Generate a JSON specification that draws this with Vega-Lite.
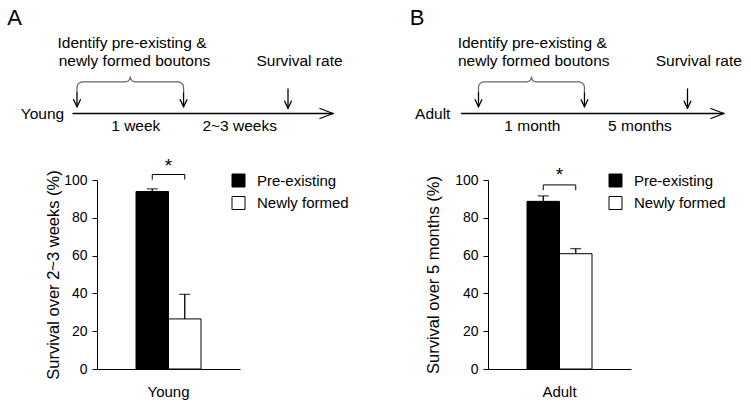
{
  "$schema": "https://vega.github.io/schema/vega-lite/v6.json",
  "padding": {"left": 7, "top": 6, "right": 5, "bottom": 5},
  "spacing": 60,
  "config": {
    "font": "Liberation Sans",
    "view": {"stroke": null},
    "axis": {"grid": false, "domainColor": "#000", "tickColor": "#000", "labelColor": "#000", "titleColor": "#000", "titleFontWeight": "normal", "labelFontSize": 14, "domainWidth": 1, "tickWidth": 1, "labelOverlap": false},
    "axisX": {"titleFontSize": 15},
    "axisY": {"titleFontSize": 16.5, "labelFlush": false, "labelOverlap": false},
    "axisQuantitative": {"labelOverlap": false},
    "legend": {"labelColor": "#000"},
    "text": {"color": "#000"}
  },
  "resolve": {"scale": {"fill": "independent"}, "legend": {"fill": "independent"}},
  "hconcat": [
    {
      "width": 143,
      "height": 189,
      "resolve": {"scale": {"x": "independent", "y": "independent"}},
      "layer": [
        {
          "data": {"values": [
            {"group": "Young", "type": "Pre-existing", "survival": 93.9, "upper": 95.3},
            {"group": "Young", "type": "Newly formed", "survival": 26.5, "upper": 39.5}
          ]},
          "encoding": {
            "x": {"field": "group", "type": "nominal", "scale": {"paddingInner": 0, "paddingOuter": 0.6}, "axis": {"title": null, "ticks": false, "tickSize": 0, "labelPadding": 15, "labelFontSize": 15, "labelAngle": 0}}
          },
          "layer": [
            {
              "mark": {"type": "bar", "stroke": "#000", "strokeWidth": 1},
              "encoding": {
                "xOffset": {"field": "type", "type": "nominal", "sort": ["Pre-existing", "Newly formed"], "scale": {"paddingInner": 0, "paddingOuter": 0}},
                "y": {"field": "survival", "type": "quantitative", "title": "Survival over 2~3 weeks (%)", "scale": {"domain": [0, 100], "nice": false}, "axis": {"values": [0, 20, 40, 60, 80, 100], "tickSize": 5, "labelPadding": 5, "titlePadding": 2, "labelOverlap": false, "labelFlush": false}},
                "fill": {"field": "type", "type": "nominal", "scale": {"domain": ["Pre-existing", "Newly formed"], "range": ["#000000", "#ffffff"]}, "legend": {"title": null, "orient": "none", "legendX": 134, "legendY": -7, "symbolType": "square", "symbolSize": 169, "symbolStrokeColor": "#000", "symbolStrokeWidth": 1, "labelFontSize": 15, "labelOffset": 11, "rowPadding": 5.5}}
              }
            },
            {
              "mark": {"type": "rule", "color": "#000", "strokeWidth": 1.3},
              "encoding": {
                "xOffset": {"field": "type", "type": "nominal", "sort": ["Pre-existing", "Newly formed"]},
                "y": {"field": "survival", "type": "quantitative", "title": "Survival over 2~3 weeks (%)", "axis": {"values": [0, 20, 40, 60, 80, 100], "tickSize": 5, "labelPadding": 5, "titlePadding": 2, "labelOverlap": false, "labelFlush": false}},
                "y2": {"field": "upper"}
              }
            },
            {
              "mark": {"type": "tick", "color": "#000", "thickness": 1.3, "size": 11},
              "encoding": {
                "xOffset": {"field": "type", "type": "nominal", "sort": ["Pre-existing", "Newly formed"]},
                "y": {"field": "upper", "type": "quantitative", "title": "Survival over 2~3 weeks (%)", "axis": {"values": [0, 20, 40, 60, 80, 100], "tickSize": 5, "labelPadding": 5, "titlePadding": 2, "labelOverlap": false, "labelFlush": false}}
              }
            },
            {
              "data": {"values": [
                {"group": "Young", "type": "Pre-existing", "level": 100.2, "step": 1},
                {"group": "Young", "type": "Pre-existing", "level": 102.9, "step": 2},
                {"group": "Young", "type": "Newly formed", "level": 102.9, "step": 3},
                {"group": "Young", "type": "Newly formed", "level": 100.2, "step": 4}
              ]},
              "mark": {"type": "line", "color": "#000", "strokeWidth": 1},
              "encoding": {
                "xOffset": {"field": "type", "type": "nominal", "sort": ["Pre-existing", "Newly formed"]},
                "y": {"field": "level", "type": "quantitative", "title": "Survival over 2~3 weeks (%)", "axis": {"values": [0, 20, 40, 60, 80, 100], "tickSize": 5, "labelPadding": 5, "titlePadding": 2, "labelOverlap": false, "labelFlush": false}},
                "order": {"field": "step", "type": "quantitative"}
              }
            },
            {
              "data": {"values": [{"group": "Young", "level": 104.3, "label": "*"}]},
              "mark": {"type": "text", "fontSize": 19, "baseline": "alphabetic"},
              "encoding": {
                "y": {"field": "level", "type": "quantitative", "title": "Survival over 2~3 weeks (%)", "axis": {"values": [0, 20, 40, 60, 80, 100], "tickSize": 5, "labelPadding": 5, "titlePadding": 2, "labelOverlap": false, "labelFlush": false}},
                "text": {"field": "label"}
              }
            }
          ]
        },
        {
          "encoding": {
            "x": {"field": "t", "type": "quantitative", "scale": {"domain": [0.1896, 1.545], "nice": false, "zero": false}, "axis": null},
            "y": {"field": "v", "type": "quantitative", "scale": {"domain": [-255.5, -66.5], "nice": false, "zero": false}, "axis": null}
          },
          "layer": [
            {
              "data": {"values": [
                {"t": -0.038, "v": 0, "t2": 2.427, "v2": 0},
                {"t": 2.303, "v": 5, "t2": 2.427, "v2": 0},
                {"t": 2.303, "v": -5, "t2": 2.427, "v2": 0},
                {"t": 0, "v": 21, "t2": 0, "v2": 7},
                {"t": -0.032, "v": 13.8, "t2": 0, "v2": 6.8},
                {"t": 0.032, "v": 13.8, "t2": 0, "v2": 6.8},
                {"t": 1.01, "v": 21, "t2": 1.01, "v2": 7},
                {"t": 0.978, "v": 13.8, "t2": 1.01, "v2": 6.8},
                {"t": 1.042, "v": 13.8, "t2": 1.01, "v2": 6.8},
                {"t": 2, "v": 24.5, "t2": 2, "v2": 5.5},
                {"t": 1.968, "v": 12.3, "t2": 2, "v2": 5.3},
                {"t": 2.032, "v": 12.3, "t2": 2, "v2": 5.3}
              ]},
              "mark": {"type": "rule", "color": "#000", "strokeWidth": 1.3, "strokeCap": "round"},
              "encoding": {"x2": {"field": "t2"}, "y2": {"field": "v2"}}
            },
            {
              "data": {"values": [
                {"i": 1, "t": 0, "v": 21}, {"i": 2, "t": 0, "v": 26.5}, {"i": 3, "t": 0.0066, "v": 29}, {"i": 4, "t": 0.0237, "v": 30.8}, {"i": 5, "t": 0.0474, "v": 31.6},
                {"i": 6, "t": 0.4623, "v": 31.6}, {"i": 7, "t": 0.486, "v": 32.4}, {"i": 8, "t": 0.4984, "v": 34}, {"i": 9, "t": 0.5031, "v": 35.5}, {"i": 10, "t": 0.505, "v": 36.8},
                {"i": 11, "t": 0.5069, "v": 35.5}, {"i": 12, "t": 0.5116, "v": 34}, {"i": 13, "t": 0.524, "v": 32.4}, {"i": 14, "t": 0.5477, "v": 31.6},
                {"i": 15, "t": 0.9626, "v": 31.6}, {"i": 16, "t": 0.9863, "v": 30.8}, {"i": 17, "t": 1.0034, "v": 29}, {"i": 18, "t": 1.01, "v": 26.5}, {"i": 19, "t": 1.01, "v": 21}
              ]},
              "mark": {"type": "line", "color": "#666", "strokeWidth": 1.2},
              "encoding": {"order": {"field": "i", "type": "quantitative"}}
            },
            {
              "data": {"values": [
                {"label": "Identify pre-existing &", "t": 0.521, "v": 65.3},
                {"label": "newly formed boutons", "t": 0.545, "v": 47.3},
                {"label": "Survival rate", "t": 2.109, "v": 47.3},
                {"label": "Young", "t": -0.327, "v": -5.3},
                {"label": "1 week", "t": 0.557, "v": -17},
                {"label": "2~3 weeks", "t": 1.542, "v": -17}
              ]},
              "mark": {"type": "text", "fontSize": 15.5, "align": "center", "baseline": "alphabetic"},
              "encoding": {"text": {"field": "label"}}
            },
            {
              "data": {"values": [{"label": "A", "t": -0.592, "v": 89}]},
              "mark": {"type": "text", "fontSize": 22, "align": "center", "baseline": "alphabetic"},
              "encoding": {"text": {"field": "label"}}
            }
          ]
        }
      ]
    },
    {
      "width": 143,
      "height": 189,
      "resolve": {"scale": {"x": "independent", "y": "independent"}},
      "layer": [
        {
          "data": {"values": [
            {"group": "Adult", "type": "Pre-existing", "survival": 88.7, "upper": 91.6},
            {"group": "Adult", "type": "Newly formed", "survival": 61.0, "upper": 63.7}
          ]},
          "encoding": {
            "x": {"field": "group", "type": "nominal", "scale": {"paddingInner": 0, "paddingOuter": 0.6}, "axis": {"title": null, "ticks": false, "tickSize": 0, "labelPadding": 15, "labelFontSize": 15, "labelAngle": 0}}
          },
          "layer": [
            {
              "mark": {"type": "bar", "stroke": "#000", "strokeWidth": 1},
              "encoding": {
                "xOffset": {"field": "type", "type": "nominal", "sort": ["Pre-existing", "Newly formed"], "scale": {"paddingInner": 0, "paddingOuter": 0}},
                "y": {"field": "survival", "type": "quantitative", "title": "Survival over 5 months (%)", "scale": {"domain": [0, 100], "nice": false}, "axis": {"values": [0, 20, 40, 60, 80, 100], "tickSize": 5, "labelPadding": 5, "titlePadding": 13.5, "labelOverlap": false, "labelFlush": false}},
                "fill": {"field": "type", "type": "nominal", "scale": {"domain": ["Pre-existing", "Newly formed"], "range": ["#000000", "#ffffff"]}, "legend": {"title": null, "orient": "none", "legendX": 120, "legendY": -7, "symbolType": "square", "symbolSize": 169, "symbolStrokeColor": "#000", "symbolStrokeWidth": 1, "labelFontSize": 15, "labelOffset": 11, "rowPadding": 5.5}}
              }
            },
            {
              "mark": {"type": "rule", "color": "#000", "strokeWidth": 1.3},
              "encoding": {
                "xOffset": {"field": "type", "type": "nominal", "sort": ["Pre-existing", "Newly formed"]},
                "y": {"field": "survival", "type": "quantitative", "title": "Survival over 5 months (%)", "axis": {"values": [0, 20, 40, 60, 80, 100], "tickSize": 5, "labelPadding": 5, "titlePadding": 13.5, "labelOverlap": false, "labelFlush": false}},
                "y2": {"field": "upper"}
              }
            },
            {
              "mark": {"type": "tick", "color": "#000", "thickness": 1.3, "size": 11},
              "encoding": {
                "xOffset": {"field": "type", "type": "nominal", "sort": ["Pre-existing", "Newly formed"]},
                "y": {"field": "upper", "type": "quantitative", "title": "Survival over 5 months (%)", "axis": {"values": [0, 20, 40, 60, 80, 100], "tickSize": 5, "labelPadding": 5, "titlePadding": 13.5, "labelOverlap": false, "labelFlush": false}}
              }
            },
            {
              "data": {"values": [
                {"group": "Adult", "type": "Pre-existing", "level": 94.6, "step": 1},
                {"group": "Adult", "type": "Pre-existing", "level": 97.4, "step": 2},
                {"group": "Adult", "type": "Newly formed", "level": 97.4, "step": 3},
                {"group": "Adult", "type": "Newly formed", "level": 94.6, "step": 4}
              ]},
              "mark": {"type": "line", "color": "#000", "strokeWidth": 1},
              "encoding": {
                "xOffset": {"field": "type", "type": "nominal", "sort": ["Pre-existing", "Newly formed"]},
                "y": {"field": "level", "type": "quantitative", "title": "Survival over 5 months (%)", "axis": {"values": [0, 20, 40, 60, 80, 100], "tickSize": 5, "labelPadding": 5, "titlePadding": 13.5, "labelOverlap": false, "labelFlush": false}},
                "order": {"field": "step", "type": "quantitative"}
              }
            },
            {
              "data": {"values": [{"group": "Adult", "level": 99.3, "label": "*"}]},
              "mark": {"type": "text", "fontSize": 19, "baseline": "alphabetic"},
              "encoding": {
                "y": {"field": "level", "type": "quantitative", "title": "Survival over 5 months (%)", "axis": {"values": [0, 20, 40, 60, 80, 100], "tickSize": 5, "labelPadding": 5, "titlePadding": 13.5, "labelOverlap": false, "labelFlush": false}},
                "text": {"field": "label"}
              }
            }
          ]
        },
        {
          "encoding": {
            "x": {"field": "t", "type": "quantitative", "scale": {"domain": [0.091, 1.4594], "nice": false, "zero": false}, "axis": null},
            "y": {"field": "v", "type": "quantitative", "scale": {"domain": [-255.5, -66.5], "nice": false, "zero": false}, "axis": null}
          },
          "layer": [
            {
              "data": {"values": [
                {"t": -0.163, "v": 0, "t2": 2.348, "v2": 0},
                {"t": 2.224, "v": 5, "t2": 2.348, "v2": 0},
                {"t": 2.224, "v": -5, "t2": 2.348, "v2": 0},
                {"t": 0, "v": 21, "t2": 0, "v2": 7},
                {"t": -0.032, "v": 13.8, "t2": 0, "v2": 6.8},
                {"t": 0.032, "v": 13.8, "t2": 0, "v2": 6.8},
                {"t": 1.014, "v": 21, "t2": 1.014, "v2": 7},
                {"t": 0.982, "v": 13.8, "t2": 1.014, "v2": 6.8},
                {"t": 1.046, "v": 13.8, "t2": 1.014, "v2": 6.8},
                {"t": 2, "v": 24.5, "t2": 2, "v2": 5.5},
                {"t": 1.968, "v": 12.3, "t2": 2, "v2": 5.3},
                {"t": 2.032, "v": 12.3, "t2": 2, "v2": 5.3}
              ]},
              "mark": {"type": "rule", "color": "#000", "strokeWidth": 1.3, "strokeCap": "round"},
              "encoding": {"x2": {"field": "t2"}, "y2": {"field": "v2"}}
            },
            {
              "data": {"values": [
                {"i": 1, "t": 0, "v": 21}, {"i": 2, "t": 0, "v": 26.5}, {"i": 3, "t": 0.0066, "v": 29}, {"i": 4, "t": 0.0237, "v": 30.8}, {"i": 5, "t": 0.0474, "v": 31.6},
                {"i": 6, "t": 0.4643, "v": 31.6}, {"i": 7, "t": 0.488, "v": 32.4}, {"i": 8, "t": 0.5004, "v": 34}, {"i": 9, "t": 0.5051, "v": 35.5}, {"i": 10, "t": 0.507, "v": 36.8},
                {"i": 11, "t": 0.5089, "v": 35.5}, {"i": 12, "t": 0.5136, "v": 34}, {"i": 13, "t": 0.526, "v": 32.4}, {"i": 14, "t": 0.5497, "v": 31.6},
                {"i": 15, "t": 0.9666, "v": 31.6}, {"i": 16, "t": 0.9903, "v": 30.8}, {"i": 17, "t": 1.0074, "v": 29}, {"i": 18, "t": 1.014, "v": 26.5}, {"i": 19, "t": 1.014, "v": 21}
              ]},
              "mark": {"type": "line", "color": "#666", "strokeWidth": 1.2},
              "encoding": {"order": {"field": "i", "type": "quantitative"}}
            },
            {
              "data": {"values": [
                {"label": "Identify pre-existing &", "t": 0.514, "v": 65.3},
                {"label": "newly formed boutons", "t": 0.529, "v": 47.3},
                {"label": "Survival rate", "t": 2.108, "v": 47.3},
                {"label": "Adult", "t": -0.438, "v": -5.3},
                {"label": "1 month", "t": 0.515, "v": -17},
                {"label": "5 months", "t": 1.545, "v": -17}
              ]},
              "mark": {"type": "text", "fontSize": 15.5, "align": "center", "baseline": "alphabetic"},
              "encoding": {"text": {"field": "label"}}
            },
            {
              "data": {"values": [{"label": "B", "t": -0.587, "v": 89}]},
              "mark": {"type": "text", "fontSize": 22, "align": "center", "baseline": "alphabetic"},
              "encoding": {"text": {"field": "label"}}
            }
          ]
        }
      ]
    }
  ]
}
